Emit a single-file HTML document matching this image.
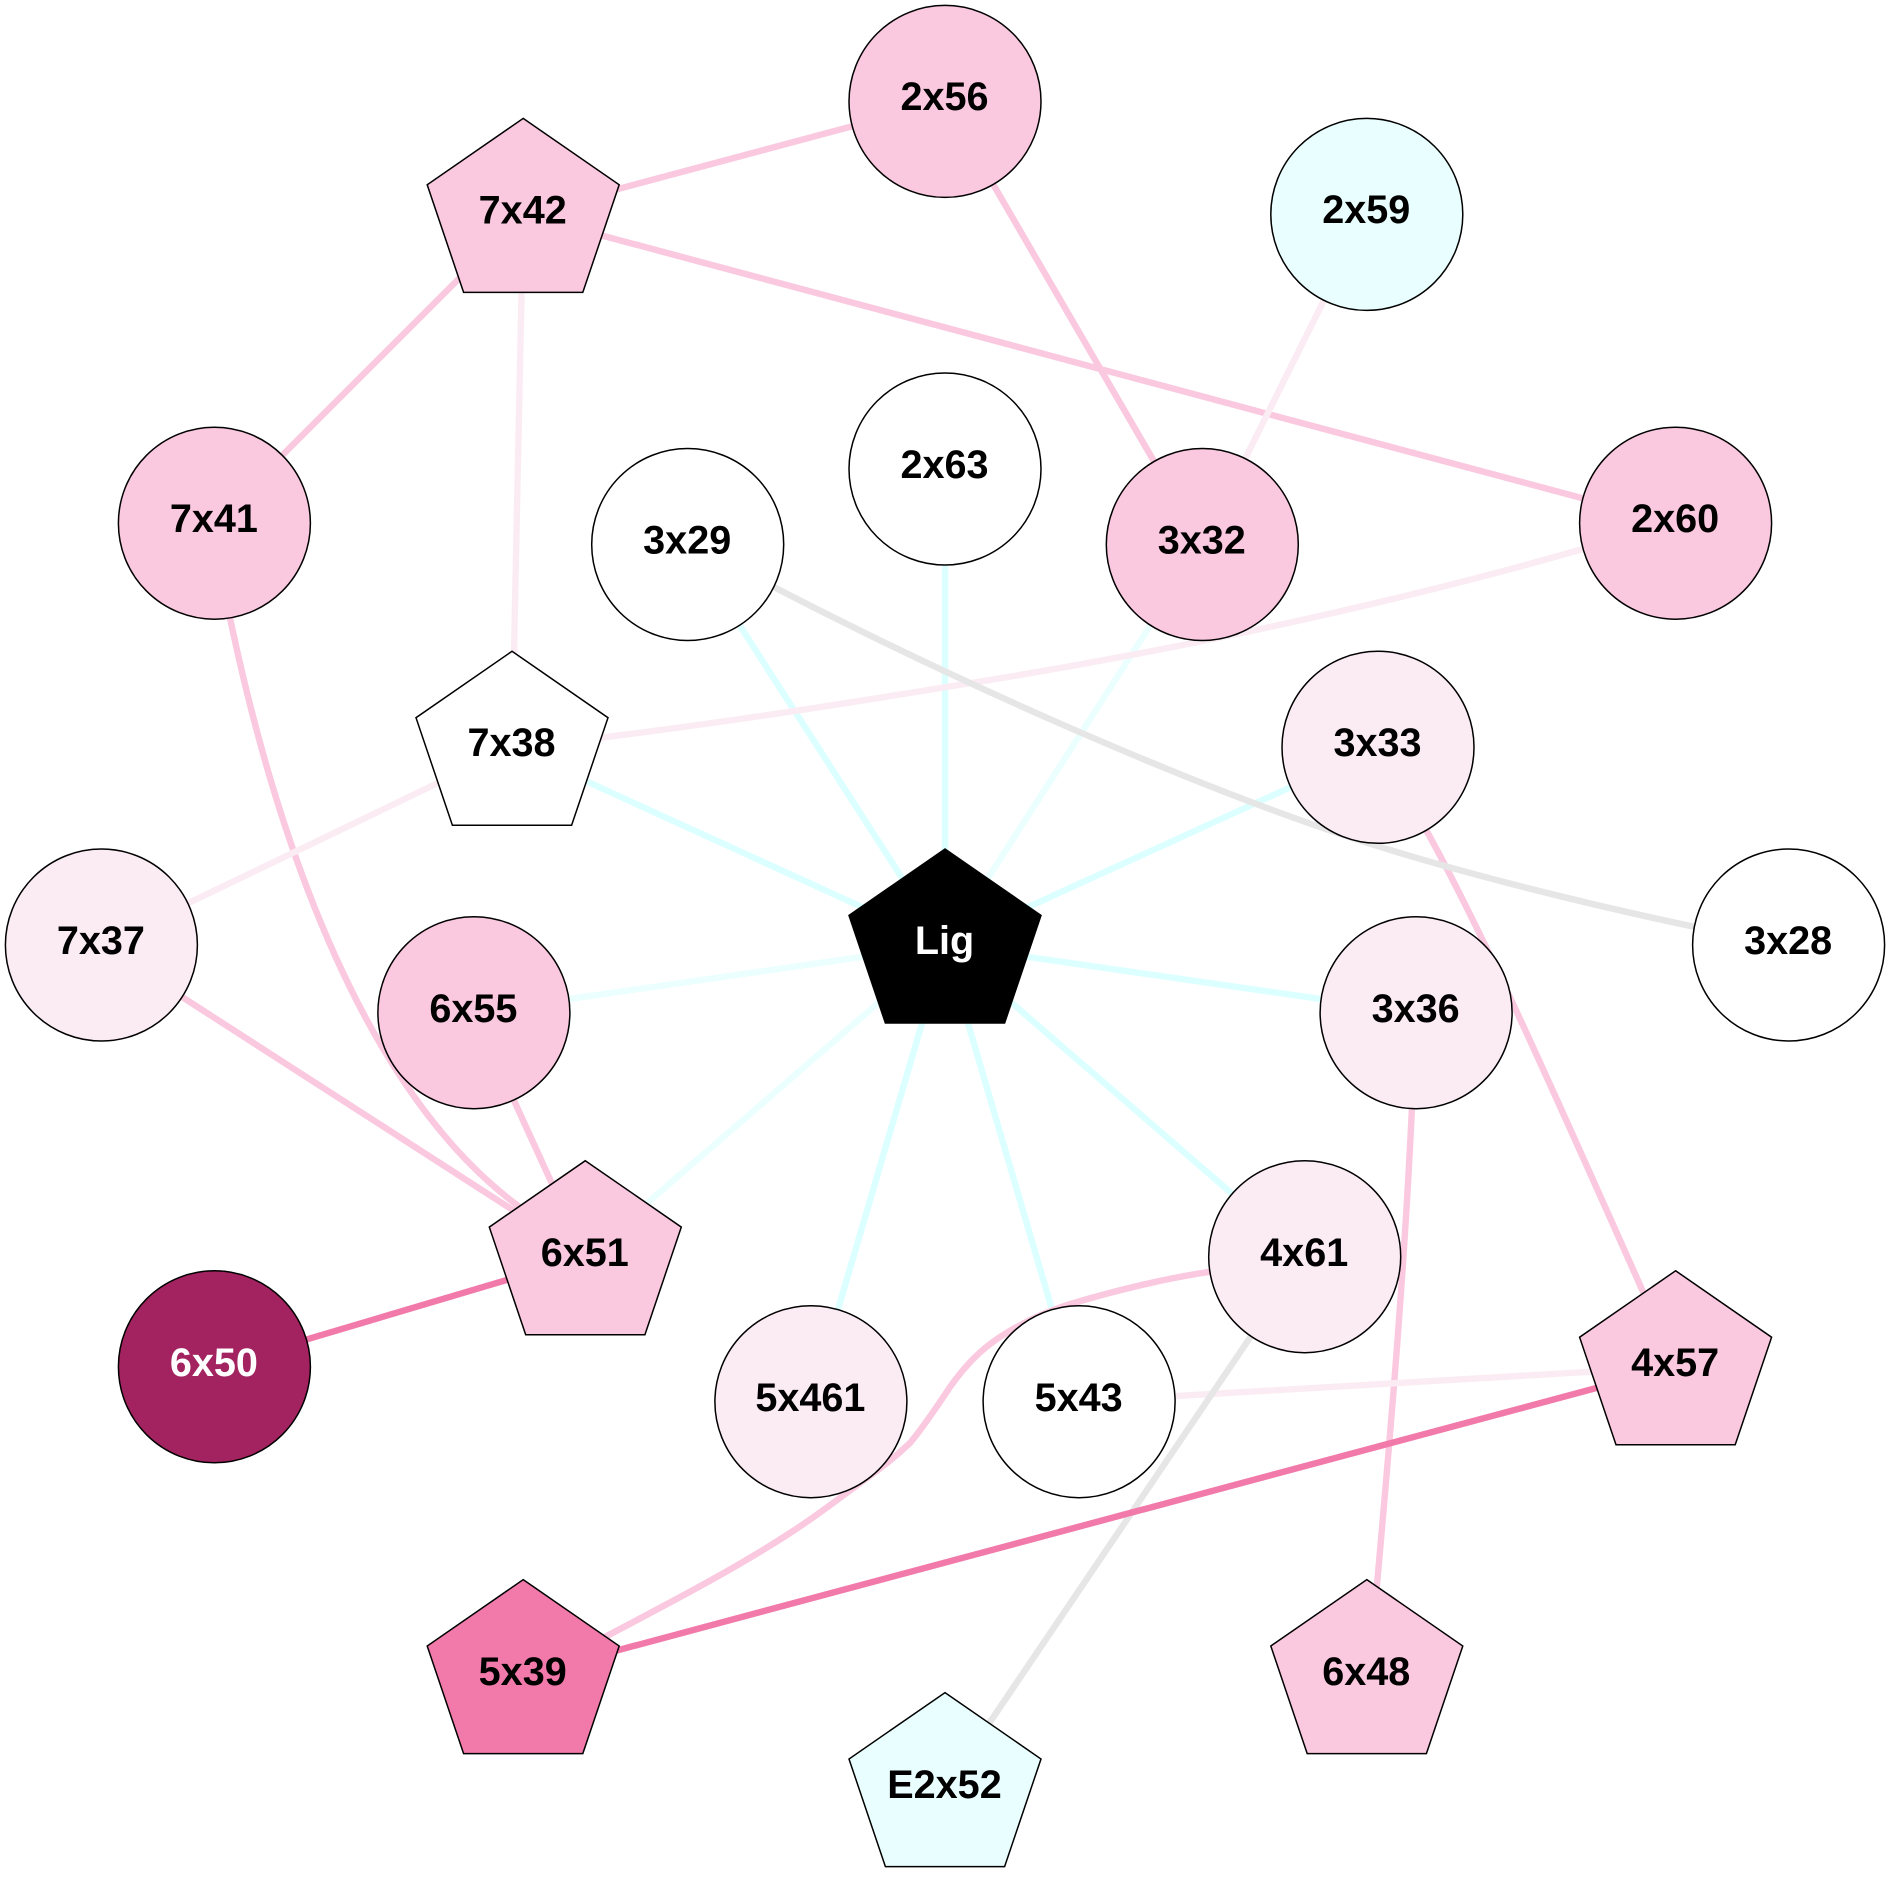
<!DOCTYPE html>
<html><head><meta charset="utf-8"><style>html,body{margin:0;padding:0;background:#fff}svg{display:block}text{font-family:"Liberation Sans",Arial,sans-serif;font-weight:bold;font-size:39.6px;text-anchor:middle;fill:#000}</style></head>
<body>
<svg xmlns="http://www.w3.org/2000/svg" width="1890" height="1890" viewBox="0 0 1890 1890">
<defs><polygon id="p" points="0,-96 96,-29.6 59.6,78 -59.6,78 -96,-29.6" stroke="#000" stroke-width="1.5"/></defs>
<rect width="1890" height="1890" fill="#fff"/>
<g fill="none" stroke-width="6.4">
<g stroke="#dcffff">
<line x1="687.7" y1="544.5" x2="945" y2="945"/>
<line x1="945" y1="469" x2="945" y2="945"/>
<line x1="1378" y1="747.3" x2="945" y2="945"/>
<line x1="512" y1="747.3" x2="945" y2="945"/>
<line x1="1416.1" y1="1012.7" x2="945" y2="945"/>
<line x1="1304.7" y1="1256.7" x2="945" y2="945"/>
<line x1="1079.1" y1="1401.7" x2="945" y2="945"/>
<line x1="810.9" y1="1401.7" x2="945" y2="945"/>
</g>
<g stroke="#ebffff">
<line x1="1202.3" y1="544.5" x2="945" y2="945"/>
<line x1="473.9" y1="1012.7" x2="945" y2="945"/>
<line x1="585.3" y1="1256.7" x2="945" y2="945"/>
</g>
<g stroke="#fac8df">
<line x1="523.2" y1="214.4" x2="945" y2="101.4"/>
<line x1="945" y1="101.4" x2="1202.3" y2="544.5"/>
<line x1="523.2" y1="214.4" x2="1675.6" y2="523.2"/>
<line x1="523.2" y1="214.4" x2="214.4" y2="523.2"/>
<line x1="101.4" y1="945" x2="585.3" y2="1256.7"/>
<line x1="473.9" y1="1012.7" x2="585.3" y2="1256.7"/>
<path d="M1415 810 C1475 915 1540 1060 1660 1330"/>
<path d="M1414 1060 C1407 1240 1392 1420 1372 1640"/>
<path d="M222 585 L230 618 C279 851 367 1093 517 1205 L545 1228"/>
<path d="M1215 1271 C1160 1279 1110 1292 1067 1305 C1040 1314 1020 1324 1000 1337 C980 1350 965 1366 950 1387 C940 1402 925 1425 910 1443 C890 1462 875 1472 860 1483 C837 1500 815 1517 790 1533 C730 1572 665 1605 590 1645"/>
</g>
<g stroke="#fbecf4">
<line x1="1366.8" y1="214.4" x2="1202.3" y2="544.5"/>
<line x1="523.2" y1="214.4" x2="512" y2="747.3"/>
<line x1="512" y1="747.3" x2="101.4" y2="945"/>
<line x1="1079.1" y1="1401.7" x2="1675.6" y2="1366.8"/>
<path d="M1600 544 C1460 585 1240 640 971 683 C855 702 730 722 590 739"/>
</g>
<g stroke="#e6e6e6">
<path d="M745 572 C950 680 1200 790 1374 845 C1470 875 1590 905 1700 928"/>
<line x1="1304.7" y1="1256.7" x2="945" y2="1788.6"/>
</g>
<g stroke="#f17aaa">
<line x1="214.4" y1="1366.8" x2="585.3" y2="1256.7"/>
<line x1="523.2" y1="1675.6" x2="1675.6" y2="1366.8"/>
</g>
</g>
<g stroke="#000" stroke-width="1.5">
<circle cx="945" cy="101.4" r="96" fill="#fac8df"/>
<circle cx="1366.8" cy="214.4" r="96" fill="#e9ffff"/>
<circle cx="1675.6" cy="523.2" r="96" fill="#fac8df"/>
<circle cx="1788.6" cy="945" r="96" fill="#fff"/>
<circle cx="214.4" cy="1366.8" r="96" fill="#a2235f"/>
<circle cx="101.4" cy="945" r="96" fill="#fbecf4"/>
<circle cx="214.4" cy="523.2" r="96" fill="#fac8df"/>
<circle cx="945" cy="469" r="96" fill="#fff"/>
<circle cx="1202.3" cy="544.5" r="96" fill="#fac8df"/>
<circle cx="1378" cy="747.3" r="96" fill="#fbecf4"/>
<circle cx="1416.1" cy="1012.7" r="96" fill="#fbecf4"/>
<circle cx="1304.7" cy="1256.7" r="96" fill="#fbecf4"/>
<circle cx="1079.1" cy="1401.7" r="96" fill="#fff"/>
<circle cx="810.9" cy="1401.7" r="96" fill="#fbecf4"/>
<circle cx="473.9" cy="1012.7" r="96" fill="#fac8df"/>
<circle cx="687.7" cy="544.5" r="96" fill="#fff"/>
</g>
<use href="#p" x="945" y="945" fill="#000"/>
<use href="#p" x="523.2" y="214.4" fill="#fac8df"/>
<use href="#p" x="512" y="747.3" fill="#fff"/>
<use href="#p" x="585.3" y="1256.7" fill="#fac8df"/>
<use href="#p" x="1675.6" y="1366.8" fill="#fac8df"/>
<use href="#p" x="1366.8" y="1675.6" fill="#fac8df"/>
<use href="#p" x="945" y="1788.6" fill="#e9ffff"/>
<use href="#p" x="523.2" y="1675.6" fill="#f17aaa"/>
<g transform="translate(-0.5,-0.8)">
<text x="945" y="111">2x56</text>
<text x="1366.8" y="224">2x59</text>
<text x="1675.6" y="533">2x60</text>
<text x="1788.6" y="955">3x28</text>
<text x="214.4" y="1377" style="fill:#fff">6x50</text>
<text x="101.4" y="955">7x37</text>
<text x="214.4" y="533">7x41</text>
<text x="945" y="479">2x63</text>
<text x="1202.3" y="554.5">3x32</text>
<text x="1378" y="757">3x33</text>
<text x="1416.1" y="1023">3x36</text>
<text x="1304.7" y="1267">4x61</text>
<text x="1079.1" y="1412">5x43</text>
<text x="810.9" y="1412">5x461</text>
<text x="473.9" y="1023">6x55</text>
<text x="687.7" y="554.5">3x29</text>
<text x="945" y="955" style="fill:#fff">Lig</text>
<text x="523.2" y="224.4">7x42</text>
<text x="512" y="757">7x38</text>
<text x="585.3" y="1267">6x51</text>
<text x="1675.6" y="1377">4x57</text>
<text x="1366.8" y="1686">6x48</text>
<text x="945" y="1798.6">E2x52</text>
<text x="523.2" y="1686">5x39</text>
</g>
</svg>
</body></html>
